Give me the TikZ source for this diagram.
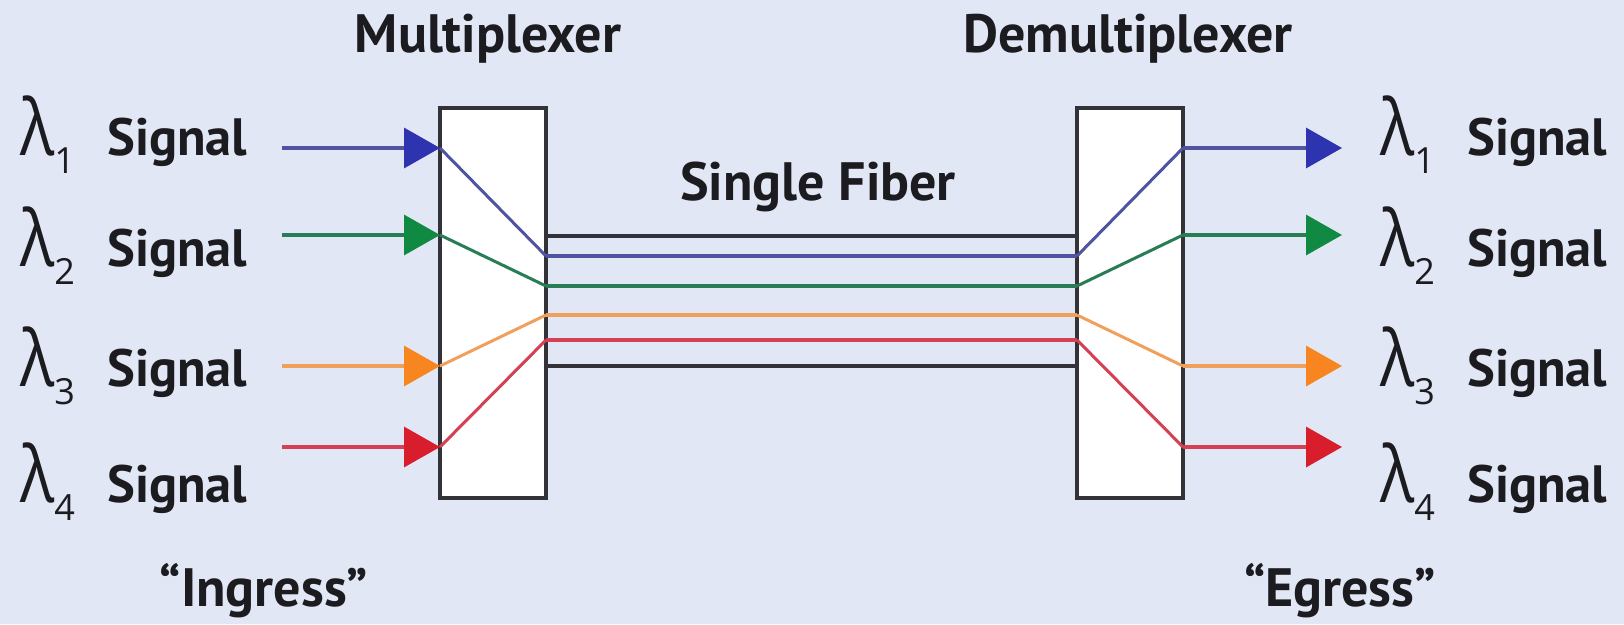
\documentclass[tikz,border=0pt]{standalone}
\usepackage{fontspec}
\setmainfont{PT Sans}
\newfontfamily\grkfont{Open Sans}
\usetikzlibrary{arrows.meta}
\definecolor{bg}{RGB}{226,231,245}
\definecolor{ink}{RGB}{28,28,32}
\definecolor{frame}{RGB}{50,50,55}
\definecolor{lblue}{RGB}{80,84,160}
\definecolor{hblue}{RGB}{46,52,176}
\definecolor{lgreen}{RGB}{40,125,85}
\definecolor{hgreen}{RGB}{16,138,66}
\definecolor{lorange}{RGB}{240,160,90}
\definecolor{horange}{RGB}{248,134,32}
\definecolor{lred}{RGB}{212,64,84}
\definecolor{hred}{RGB}{216,30,44}
\newcommand\lamsig[1]{\makebox[87pt][l]{\scalebox{0.82}[1]{\grkfont\fontsize{78}{78}\selectfont λ}\raisebox{-18pt}{\grkfont\fontsize{36}{36}\selectfont #1}}{\fontsize{52.5}{52.5}\selectfont\bfseries Signal}}
\begin{document}
\begin{tikzpicture}[x=1pt,y=-1pt,
  box/.style={draw=frame, line width=3.5pt, fill=white, minimum width=106pt, minimum height=390pt, inner sep=0pt, outer sep=0pt},
  title/.style={font=\fontsize{54}{54}\selectfont\bfseries, text=ink, inner sep=0pt, anchor=base},
  lbl/.style={text=ink, inner sep=0pt, anchor=base west},
  sig/.style={line width=3.5pt},
  inr/.style={line width=3pt},
  fib/.style={line width=4pt}]
\fill[bg] (0,0) rectangle (1624,624);
\useasboundingbox (0,0) rectangle (1624,624);
% boxes
\node[box] (mux) at (493,303) {};
\node[box] (demux) at (1130,303) {};
% titles
\node[title] (tmux) at (488,52) {Multiplexer};
\node[title] (tdemux) at (1128,52) {Demultiplexer};
\node[title] (tfiber) at (818,200) {Single Fiber};
\node[title] (ing) at (264,606) {“Ingress”};
\node[title] (egr) at (1340,606) {“Egress”};
% labels
\node[lbl] (l1) at (20,155) {\lamsig{1}};
\node[lbl] (l2) at (20,266) {\lamsig{2}};
\node[lbl] (l3) at (20,386) {\lamsig{3}};
\node[lbl] (l4) at (20,502) {\lamsig{4}};
\node[lbl] (r1) at (1380,155) {\lamsig{1}};
\node[lbl] (r2) at (1380,266) {\lamsig{2}};
\node[lbl] (r3) at (1380,386) {\lamsig{3}};
\node[lbl] (r4) at (1380,502) {\lamsig{4}};
% coordinates
\coordinate (a1) at (282,148); \coordinate (a2) at (282,235);
\coordinate (a3) at (282,366); \coordinate (a4) at (282,447);
\coordinate (m1) at (mux.west |- a1); \coordinate (m2) at (mux.west |- a2);
\coordinate (m3) at (mux.west |- a3); \coordinate (m4) at (mux.west |- a4);
\coordinate (d1) at (demux.east |- a1); \coordinate (d2) at (demux.east |- a2);
\coordinate (d3) at (demux.east |- a3); \coordinate (d4) at (demux.east |- a4);
\coordinate (e1) at (1342,148); \coordinate (e2) at (1342,235);
\coordinate (e3) at (1342,366); \coordinate (e4) at (1342,447);
\coordinate (f0) at (0,236); \coordinate (f1) at (0,256); \coordinate (f2) at (0,286);
\coordinate (f3) at (0,315); \coordinate (f4) at (0,340); \coordinate (f5) at (0,366);
\foreach \i in {0,...,5}{
  \coordinate (ml\i) at (mux.east |- f\i);
  \coordinate (dl\i) at (demux.west |- f\i);
}
% fiber lines
\draw[fib, frame] (ml0) -- (dl0);
\draw[fib, lblue] (ml1) -- (dl1);
\draw[fib, lgreen] (ml2) -- (dl2);
\draw[fib, lorange] (ml3) -- (dl3);
\draw[fib, lred] (ml4) -- (dl4);
\draw[fib, frame] (ml5) -- (dl5);
% inside boxes
\draw[inr, lblue] (m1) -- (ml1);
\draw[inr, lgreen] (m2) -- (ml2);
\draw[inr, lorange] (m3) -- (ml3);
\draw[inr, lred] (m4) -- (ml4);
\draw[inr, lblue] (dl1) -- (d1);
\draw[inr, lgreen] (dl2) -- (d2);
\draw[inr, lorange] (dl3) -- (d3);
\draw[inr, lred] (dl4) -- (d4);
% input arrows
\draw[sig, lblue, -{Triangle[length=36pt,width=40pt,color=hblue]}] (a1) -- (m1);
\draw[sig, lgreen, -{Triangle[length=36pt,width=40pt,color=hgreen]}] (a2) -- (m2);
\draw[sig, lorange, -{Triangle[length=36pt,width=40pt,color=horange]}] (a3) -- (m3);
\draw[sig, lred, -{Triangle[length=36pt,width=40pt,color=hred]}] (a4) -- (m4);
% output arrows
\draw[sig, lblue, -{Triangle[length=36pt,width=40pt,color=hblue]}] (d1) -- (e1);
\draw[sig, lgreen, -{Triangle[length=36pt,width=40pt,color=hgreen]}] (d2) -- (e2);
\draw[sig, lorange, -{Triangle[length=36pt,width=40pt,color=horange]}] (d3) -- (e3);
\draw[sig, lred, -{Triangle[length=36pt,width=40pt,color=hred]}] (d4) -- (e4);
\end{tikzpicture}
\end{document}
